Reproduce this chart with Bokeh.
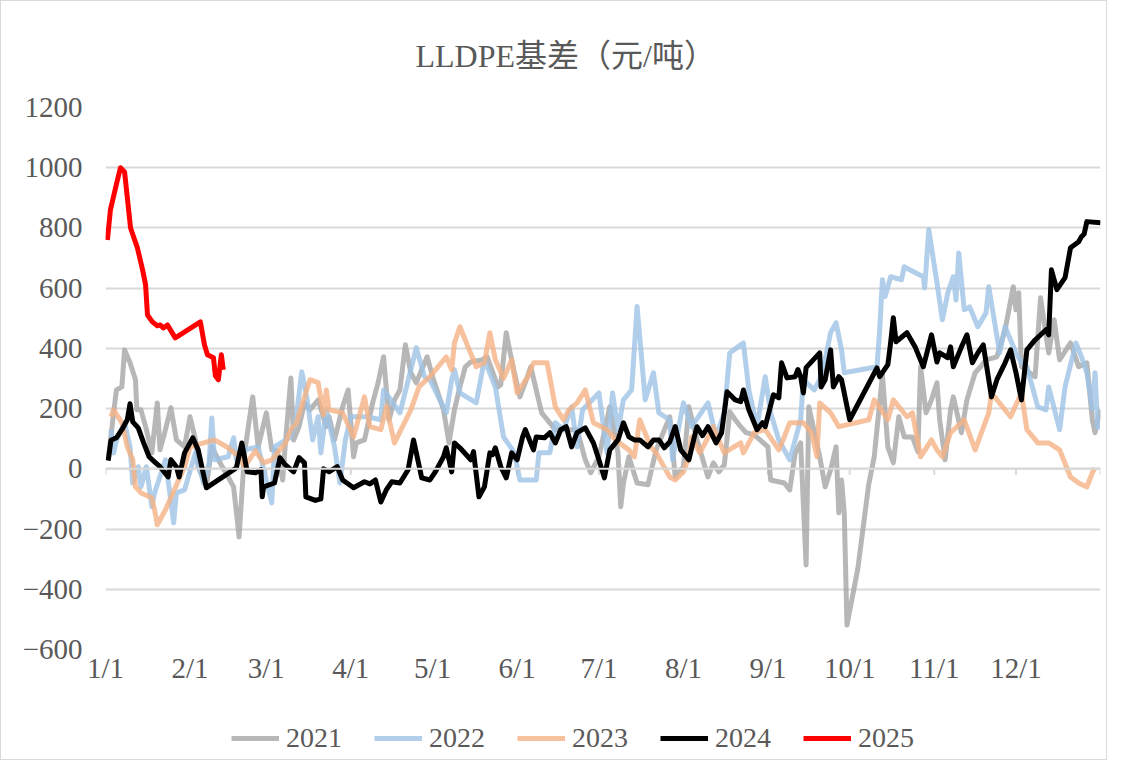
from bokeh.plotting import figure
from bokeh.layouts import column
from bokeh.models import (FixedTicker, Legend, LegendItem, Span, ColumnDataSource,
                          Range1d, Title)
from bokeh.embed import file_html
from bokeh.resources import INLINE

# ---------------- data (x = day of year, y = basis 元/吨) ----------------
month_ticks = [0, 31, 59, 90, 120, 151, 181, 212, 243, 273, 304, 334]
month_labels = ["1/1", "2/1", "3/1", "4/1", "5/1", "6/1", "7/1", "8/1",
                "9/1", "10/1", "11/1", "12/1"]
y_ticks = [-600, -400, -200, 0, 200, 400, 600, 800, 1000, 1200]

days_2021 = [1, 3, 4, 6, 7, 9, 11, 11.5, 13, 15, 17, 19, 20, 22, 24, 26, 29, 31, 33, 34,
             37, 39, 42, 45, 47, 49, 51, 54, 56, 59, 61, 63, 65, 66, 68, 69, 71, 73, 75, 78,
             81, 82, 84, 87, 89, 91, 92, 95, 98, 100, 102, 104, 106, 108, 110, 112, 114, 118,
             120, 124, 126, 128, 130, 132, 134, 138, 140, 144, 145, 147, 148, 150, 152, 154,
             156, 158, 160, 165, 170, 173, 176, 178, 181, 185, 188, 189, 190, 192, 195, 199,
             202, 207, 209, 212, 214, 217, 221, 223, 225, 227, 229, 231, 233, 235, 238, 243,
             244, 249, 251, 253, 255, 257, 258, 262, 264, 266, 268, 269, 270, 271, 272, 276,
             280, 282, 285, 287, 289, 291, 293, 296, 298, 299, 301, 303, 305, 306, 308, 310,
             311, 314, 316, 319, 321, 323, 327, 330, 333, 334, 335, 336, 341, 343, 346, 348,
             350, 354, 357, 360, 362, 363, 365]
vals_2021 = [30, 186, 262, 272, 395, 352, 296, 196, 196, 130, 53, 219, 63, 130, 203, 96, 73, 173, 96, 7,
             -60, 73, 20, -27, -60, -226, 53, 239, 73, 186, 63, 60, -37, 86, 302, 96, 140, 219, 196, 229,
             140, 173, 96, 206, 262, 40, 86, 96, 219, 286, 372, 163, 229, 262, 412, 319, 286, 372,
             306, 196, 86, 196, 272, 339, 355, 362, 372, 272, 280, 452, 405, 319, 239, 286,
             339, 262, 186, 130, 130, 130, 30, -13, 40, 206, 53, -126, -47, 40, -47, -53,
             63, 173, -27, 7, 206, 96, -27, 20, -10, 13, 190, 163, 140, 120, 113, 73,
             -37, -47, -70, 53, 86, -319, 206, 40, -60, -3, 73, -146, -37, -146, -519, -330,
             -50, 40, 312, 73, 20, 173, 106, 106, 57, 339, 186, 229, 286, 163, 30, 196,
             239, 120, 229, 319, 339, 362, 372, 462, 605, 528, 585, 339, 306, 568, 385, 495,
             362, 418, 339, 352, 163, 120, 196]

days_2022 = [2, 3, 4, 7, 9, 10, 12, 13, 15, 17, 18, 22, 25, 26, 29, 33, 36, 38, 39, 40,
             45, 47, 48, 51, 56, 61, 62, 68, 70, 72, 74, 76, 78, 79, 81, 84, 86, 88, 90, 96,
             101, 102, 108, 112, 114, 117, 119, 125, 127, 128, 130, 136, 139, 143, 146, 150,
             152, 158, 159, 163, 165, 168, 171, 173, 175, 181, 184, 186, 188, 190, 193, 195,
             198, 201, 203, 207, 208, 212, 215, 221, 224, 227, 229, 232, 234, 236, 239, 242,
             244, 247, 251, 255, 256, 260, 262, 264, 266, 268, 270, 271, 283, 284, 285, 286,
             288, 292, 293, 295, 300, 300.5, 302, 305, 307, 309, 311, 312, 313, 315, 317, 320,
             323, 324, 328, 330, 334, 336, 338, 340, 342, 345, 346, 350, 352, 356, 358, 360,
             362, 363, 364]
vals_2022 = [130, 53, 96, 153, 73, -47, 7, -60, 7, -126, -80, 30, -179, -80, -70, 53, -47, 20, 169, 30,
             40, 103, 30, 63, 73, -113, 73, 106, 173, 322, 229, 96, 173, 53, 196, 73, -47, 96, 173, 173,
             163, 262, 186, 329, 402, 306, 296, 186, 296, 329, 252, 219, 362, 272, 106, 53,
             -37, -37, 53, 53, 153, 130, 206, 73, 196, 252, 53, 252, 130, 229, 262, 539,
             229, 319, 186, 163, 30, 219, 140, 219, 106, 186, 385, 405, 418, 262, 140, 306,
             186, 96, 30, 163, 296, 262, 296, 362, 452, 485, 395, 319, 339, 462, 628, 572,
             638, 628, 671, 661, 638, 601, 794, 618, 495, 585, 638, 561, 717, 528, 538, 472,
             518, 605, 385, 472, 385, 352, 339, 272, 206, 196, 272, 130, 272, 418, 372, 319,
             200, 319, 130]

days_2023 = [2, 3, 6, 8, 10, 11, 13, 17, 18, 19, 22, 29, 31, 36, 40, 45, 49, 51, 55, 58,
             61, 66, 68, 70, 73, 75, 78, 80, 81, 82, 87, 91, 95, 97, 101, 103, 106, 112, 115, 119,
             125, 127, 128, 130, 133, 136, 139, 141, 143, 146, 149, 151, 155, 157, 162, 165,
             168, 170, 173, 176, 179, 184, 187, 192, 194, 196, 200, 202, 207, 209, 212, 214,
             215, 218, 220, 223, 227, 230, 233, 234, 238, 242, 247, 249, 251, 256, 259, 261,
             262, 266, 269, 280, 282, 285, 287, 289, 294, 296, 299, 303, 305, 307, 310, 315,
             319, 324, 325, 332, 336, 338, 342, 346, 350, 354, 357, 360, 362, 363]
vals_2023 = [173, 196, 153, 73, 30, -60, -80, -96, -136, -186, -136, 7, 73, 86, 96, 70, 40, 7, 60, 20,
             30, 86, 130, 153, 239, 296, 286, 180, 262, 196, 186, 106, 239, 140, 130, 206, 86, 196, 272, 306,
             372, 329, 418, 472, 405, 339, 352, 452, 362, 300, 362, 252, 306, 352, 352, 206,
             163, 196, 219, 262, 153, 130, 96, 63, 40, 163, 73, 53, -27, -37, -10, 40,
             106, 53, 86, 140, 53, 70, 86, 53, 120, 130, 63, 106, 153, 153, 120, 40,
             219, 186, 140, 163, 229, 190, 163, 229, 173, 186, 40, 96, 63, 40, 120, 163,
             63, 186, 252, 173, 252, 130, 86, 86, 63, -27, -47, -60, -13, 3]

days_2024 = [1, 2, 4, 6, 8, 9, 10, 12, 14, 16, 18, 20, 23, 24, 26, 27, 29, 32, 34, 37,
             48, 50, 52, 55, 57, 57.5, 58, 62, 64, 66, 69, 71, 73, 73.5, 77, 79, 80, 82, 85, 87,
             91, 95, 97, 99, 101, 103, 105, 108, 111, 113, 116, 119, 121, 124, 125, 127, 128, 130,
             134, 135, 137, 139, 141, 142, 143, 145, 147, 149, 151, 153, 154, 157, 158, 161,
             163, 165, 167, 169, 171, 173, 176, 179, 181, 183, 185, 188, 190, 192, 194, 196,
             199, 201, 203, 205, 207, 209, 211, 214, 216, 217, 219, 221, 224, 226, 228, 231,
             233, 234, 236, 239, 241, 242, 245, 247, 248, 250, 253, 254, 255, 256, 257, 262,
             262.5, 264, 266, 267, 269, 270, 273, 283, 284, 287, 288, 289, 290, 294, 297, 300,
             303, 305, 306, 309, 310, 311, 314, 316, 318, 320, 322, 325, 327, 330, 332, 334,
             336, 338, 341, 345, 346, 347, 349, 352, 354, 357, 358, 359, 360, 365]
vals_2024 = [27, 95, 103, 130, 163, 216, 156, 136, 86, 40, 23, 7, -27, 30, 7, -27, 53, 103, 63, -63,
             3, 86, -10, -13, -3, -93, -60, -47, 37, 13, -10, 37, 20, -93, -105, -100, 0, -10, 7, -37,
             -63, -43, -50, -37, -110, -70, -43, -47, -3, 96, -30, -37, -10, 40, 70, -10, 86, 70,
             30, 57, -93, -60, 53, 47, 70, 7, -30, 53, 30, 106, 130, 63, 106, 103,
             120, 86, 130, 140, 73, 120, 136, 86, 30, -30, 63, 96, 153, 106, 96, 96,
             73, 96, 96, 70, 90, 140, 63, 30, 106, 140, 110, 140, 86, 120, 256, 229,
             223, 262, 196, 130, 153, 140, 246, 236, 352, 302, 306, 330, 306, 252, 336, 385,
             272, 296, 395, 272, 306, 296, 163, 335, 306, 346, 418, 502, 422, 452, 405, 339,
             445, 355, 385, 369, 405, 339, 405, 445, 352, 385, 412, 239, 296, 352, 395, 319,
             229, 395, 428, 462, 445, 661, 595, 635, 734, 754, 771, 780, 821, 817]

days_2025 = [0.7, 1.8, 4.4, 5.5, 7.0, 9.2, 11.7, 13.6, 14.7, 15.4, 17.2, 19.0, 20.1, 21.2,
             22.7, 25.6, 34.8, 36.3, 37.4, 39.6, 40.3, 41.4, 42.5, 43.2]
vals_2025 = [760, 860, 960, 1000, 986, 800, 734, 661, 611, 511, 488, 475, 478, 468,
             478, 435, 488, 412, 379, 369, 309, 296, 379, 329]

series = [
    ("2021", days_2021, vals_2021, "#A5A5A5", 0.8),
    ("2022", days_2022, vals_2022, "#9DC3E6", 0.8),
    ("2023", days_2023, vals_2023, "#F4B183", 0.8),
    ("2024", days_2024, vals_2024, "#000000", 1.0),
    ("2025", days_2025, vals_2025, "#FF0000", 1.0),
]

FONT = "Liberation Serif, Noto Sans CJK SC"
TXT = "#595959"

# ---------------- main chart ----------------
p = figure(frame_width=995, frame_height=542, output_backend="svg", toolbar_location=None,
           x_range=Range1d(0, 365), y_range=Range1d(-600, 1200),
           min_border_left=104, min_border_right=6, min_border_top=106,
           min_border_bottom=65, outline_line_color=None)

t = Title(text="LLDPE基差（元/吨）", align="left", text_font=FONT,
          text_font_size="32px", text_color=TXT, text_font_style="normal",
          offset=310, standoff=67)
p.add_layout(t, "above")

p.xgrid.grid_line_color = None
p.ygrid.ticker = FixedTicker(ticks=y_ticks)
p.ygrid.grid_line_color = "#D9D9D9"
p.ygrid.grid_line_width = 2

p.yaxis.ticker = FixedTicker(ticks=y_ticks)
p.yaxis.axis_line_color = None
p.yaxis.major_tick_line_color = None
p.yaxis.major_tick_out = 0
p.yaxis.minor_tick_line_color = None
p.yaxis.major_label_standoff = 23
p.yaxis.major_label_text_font = FONT
p.yaxis.major_label_text_font_size = "29px"
p.yaxis.major_label_text_color = TXT
p.yaxis.major_label_overrides = {v: ("−" + str(-v) if v < 0 else str(v)) for v in y_ticks}

p.xaxis.ticker = FixedTicker(ticks=month_ticks)
p.xaxis.major_label_overrides = {d: l for d, l in zip(month_ticks, month_labels)}
p.xaxis.axis_line_color = None
p.xaxis.major_tick_line_color = None
p.xaxis.major_tick_out = 0
p.xaxis.minor_tick_line_color = None
p.xaxis.major_label_standoff = 2
p.xaxis.major_label_text_font = FONT
p.xaxis.major_label_text_font_size = "29px"
p.xaxis.major_label_text_color = TXT

# horizontal axis line at zero with tick marks
p.add_layout(Span(location=0, dimension="width", line_color="#D9D9D9", line_width=2))
tick_src = ColumnDataSource(dict(x=month_ticks + [365], y0=[0] * 13, y1=[-20] * 13))
p.segment(x0="x", x1="x", y0="y0", y1="y1", source=tick_src, line_color="#D9D9D9", line_width=2)

for name, d, v, c, a in series:
    p.line(d, v, line_color=c, line_width=5, line_alpha=a, line_join="round")

# ---------------- legend strip (same series, legend only) ----------------
lg = figure(width=995 + 104 + 6, height=45, output_backend="svg", toolbar_location=None,
            x_range=Range1d(1000, 1001), y_range=Range1d(-600, 1200),
            min_border=0, outline_line_color=None, x_axis_type=None, y_axis_type=None)
lg.grid.visible = False
items = []
for name, d, v, c, a in series:
    r = lg.line(d, v, line_color=c, line_width=5, line_alpha=a)
    items.append(LegendItem(label=name, renderers=[r]))

legend = Legend(items=items, orientation="horizontal", location=(126, 5),
                glyph_width=48, glyph_height=28, label_standoff=7, spacing=32,
                padding=0, margin=0, border_line_color=None, background_fill_alpha=0,
                label_text_font=FONT, label_text_font_size="28px", label_text_color=TXT)
lg.add_layout(legend, "center")

layout = column(p, lg, spacing=0)
layout.styles = {"border": "1px solid #D9D9D9"}

open("out.html", "w").write(file_html(layout, INLINE))
